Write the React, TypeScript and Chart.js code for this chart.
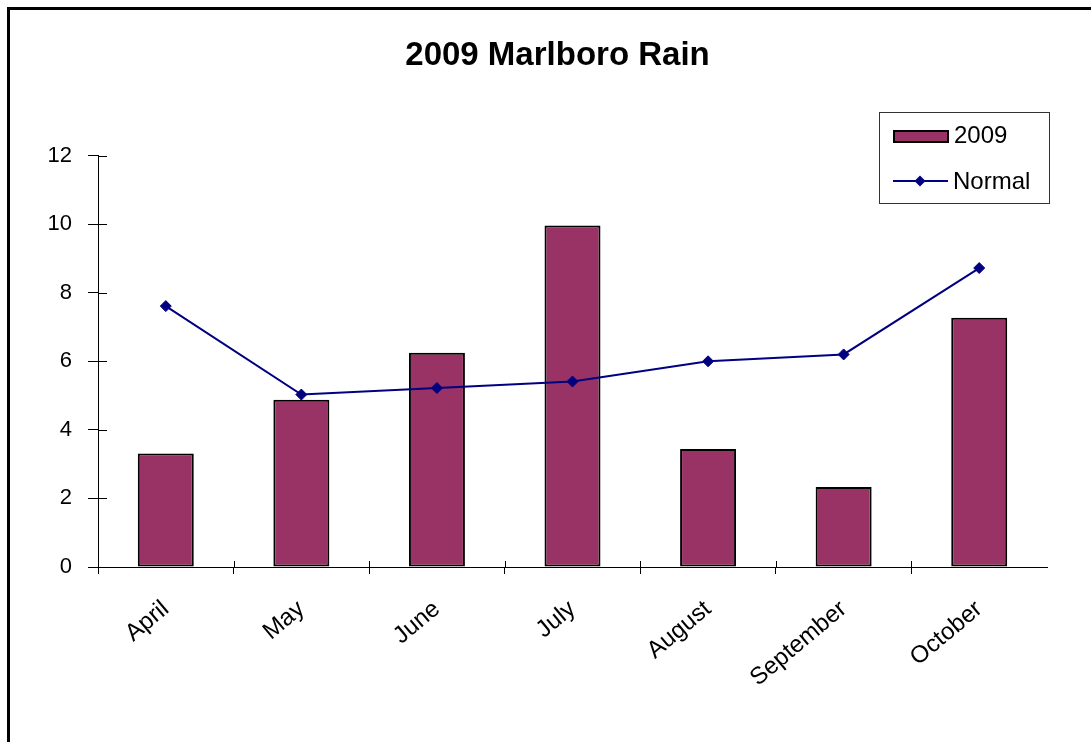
import React, { useEffect, useRef } from "react";
import { Chart, registerables } from "chart.js";

Chart.register(...registerables);

const categories = ["April", "May", "June", "July", "August", "September", "October"];
const rain2009 = [3.31, 4.88, 6.25, 9.96, 3.44, 2.33, 7.27];
const normalRain = [7.61, 5.03, 5.22, 5.41, 6.0, 6.2, 8.72];
const seriesLabels = ["2009", "Normal"];
const titleText = "2009 Marlboro Rain";
const yMin = 0;
const yMax = 12;
const yStep = 2;

const FONT = "'Liberation Sans', Arial, Helvetica, sans-serif";
const BAR_COLOR = "#993366";
const LINE_COLOR = "#000080";

const innerTicks = {
  id: "innerTicks",
  afterDatasetsDraw(chart: any) {
    const { ctx } = chart;
    const xs = chart.scales.x;
    const ys = chart.scales.y;
    ctx.save();
    ctx.strokeStyle = "#000";
    ctx.lineWidth = 1;
    ctx.beginPath();
    ys.ticks.forEach((_t: any, i: number) => {
      const py = Math.round(ys.getPixelForTick(i)) + 0.5;
      ctx.moveTo(ys.right, py);
      ctx.lineTo(ys.right + 9, py);
    });
    for (let i = 1; i < xs.ticks.length; i++) {
      const px = Math.round(xs.getPixelForValue(i - 0.5)) + 0.5;
      ctx.moveTo(px, xs.top);
      ctx.lineTo(px, xs.top - 6);
    }
    ctx.stroke();
    ctx.restore();
  },
};

const boxLegend = {
  id: "boxLegend",
  afterDraw(chart: any) {
    const { ctx } = chart;
    const ds = chart.data.datasets;
    const bx = 879.5, by = 112.5, bw = 170, bh = 91;
    ctx.save();
    ctx.fillStyle = "#fff";
    ctx.fillRect(bx, by, bw, bh);
    ctx.strokeStyle = "#333";
    ctx.lineWidth = 1;
    ctx.strokeRect(bx, by, bw, bh);
    ctx.font = `24px ${FONT}`;
    ctx.textBaseline = "middle";
    ctx.textAlign = "left";
    const bar = ds.find((d: any) => d.type === "bar");
    const line = ds.find((d: any) => d.type === "line");
    ctx.fillStyle = bar.backgroundColor;
    ctx.fillRect(894, 131, 54, 11);
    ctx.strokeStyle = bar.borderColor;
    ctx.lineWidth = 2;
    ctx.strokeRect(894, 131, 54, 11);
    ctx.fillStyle = "#000";
    ctx.fillText(bar.label, 954, 136);
    ctx.strokeStyle = line.borderColor;
    ctx.lineWidth = 2;
    ctx.beginPath();
    ctx.moveTo(893, 181);
    ctx.lineTo(948, 181);
    ctx.stroke();
    ctx.fillStyle = line.pointBackgroundColor;
    ctx.beginPath();
    ctx.moveTo(920, 175.5);
    ctx.lineTo(925.5, 181);
    ctx.lineTo(920, 186.5);
    ctx.lineTo(914.5, 181);
    ctx.closePath();
    ctx.fill();
    ctx.fillStyle = "#000";
    ctx.fillText(line.label, 953, 182);
    ctx.restore();
  },
};

export default function App() {
  const ref = useRef<HTMLCanvasElement | null>(null);

  useEffect(() => {
    document.body.style.overflow = "hidden";
    const canvas = ref.current;
    if (!canvas) return;
    const chart = new Chart(canvas, {
      data: {
        labels: categories,
        datasets: [
          {
            type: "line",
            label: seriesLabels[1],
            data: normalRain,
            borderColor: LINE_COLOR,
            backgroundColor: LINE_COLOR,
            pointBackgroundColor: LINE_COLOR,
            pointBorderColor: LINE_COLOR,
            borderWidth: 2,
            pointStyle: "rectRot",
            pointRadius: 5.5,
            pointBorderWidth: 1,
            tension: 0,
            fill: false,
            order: 0,
            yAxisID: "y",
          } as any,
          {
            type: "bar",
            label: seriesLabels[0],
            data: rain2009,
            backgroundColor: BAR_COLOR,
            borderColor: "#000",
            borderWidth: 2,
            borderSkipped: false,
            categoryPercentage: 1,
            barPercentage: 0.413,
            order: 1,
            yAxisID: "y",
          } as any,
        ],
      },
      options: {
        responsive: false,
        animation: false,
        events: [],
        layout: { padding: { left: 36, right: 12, top: 0, bottom: 0 } },
        plugins: {
          legend: { display: false },
          tooltip: { enabled: false },
          title: {
            display: true,
            text: titleText,
            color: "#000",
            font: { family: FONT, size: 33, weight: "bold" },
            padding: { top: 36, bottom: 80 },
          },
        },
        scales: {
          x: {
            type: "category",
            offset: true,
            grid: {
              offset: true,
              drawOnChartArea: false,
              drawTicks: true,
              tickLength: 7,
              tickColor: (c: any) => (c.type === "tick" ? "#000" : "rgba(0,0,0,0)"),
            },
            border: { display: true, color: "#000", width: 1 },
            ticks: {
              color: "#000",
              font: { family: FONT, size: 24 },
              maxRotation: 40,
              minRotation: 40,
              autoSkip: false,
              padding: 21,
            },
            afterFit: (s: any) => {
              s.height = 175;
            },
          },
          y: {
            type: "linear",
            position: "left",
            min: yMin,
            max: yMax,
            grid: {
              drawOnChartArea: false,
              drawTicks: true,
              tickLength: 10,
              tickColor: "#000",
            },
            border: { display: true, color: "#000", width: 1 },
            ticks: {
              stepSize: yStep,
              color: "#000",
              font: { family: FONT, size: 22 },
              padding: 16,
            },
            afterFit: (s: any) => {
              s.width = 62;
            },
          },
          spacer: {
            type: "linear",
            position: "right",
            display: true,
            grid: { display: false, drawTicks: false },
            border: { display: false },
            ticks: { display: false },
            afterFit: (s: any) => {
              s.width = 32;
            },
          },
        },
      },
      plugins: [innerTicks, boxLegend],
    });
    return () => chart.destroy();
  }, []);

  return (
    <div style={{ position: "fixed", left: 0, top: 0, width: 1091, height: 742, overflow: "hidden", background: "#fff" }}>
      <div
        style={{
          position: "absolute",
          left: 7,
          top: 7,
          width: 1084,
          height: 735,
          boxSizing: "border-box",
          borderLeft: "3px solid #000",
          borderTop: "3px solid #000",
        }}
      />
      <canvas ref={ref} width={1091} height={742} style={{ position: "absolute", left: 0, top: 0, width: 1091, height: 742 }} />
    </div>
  );
}
